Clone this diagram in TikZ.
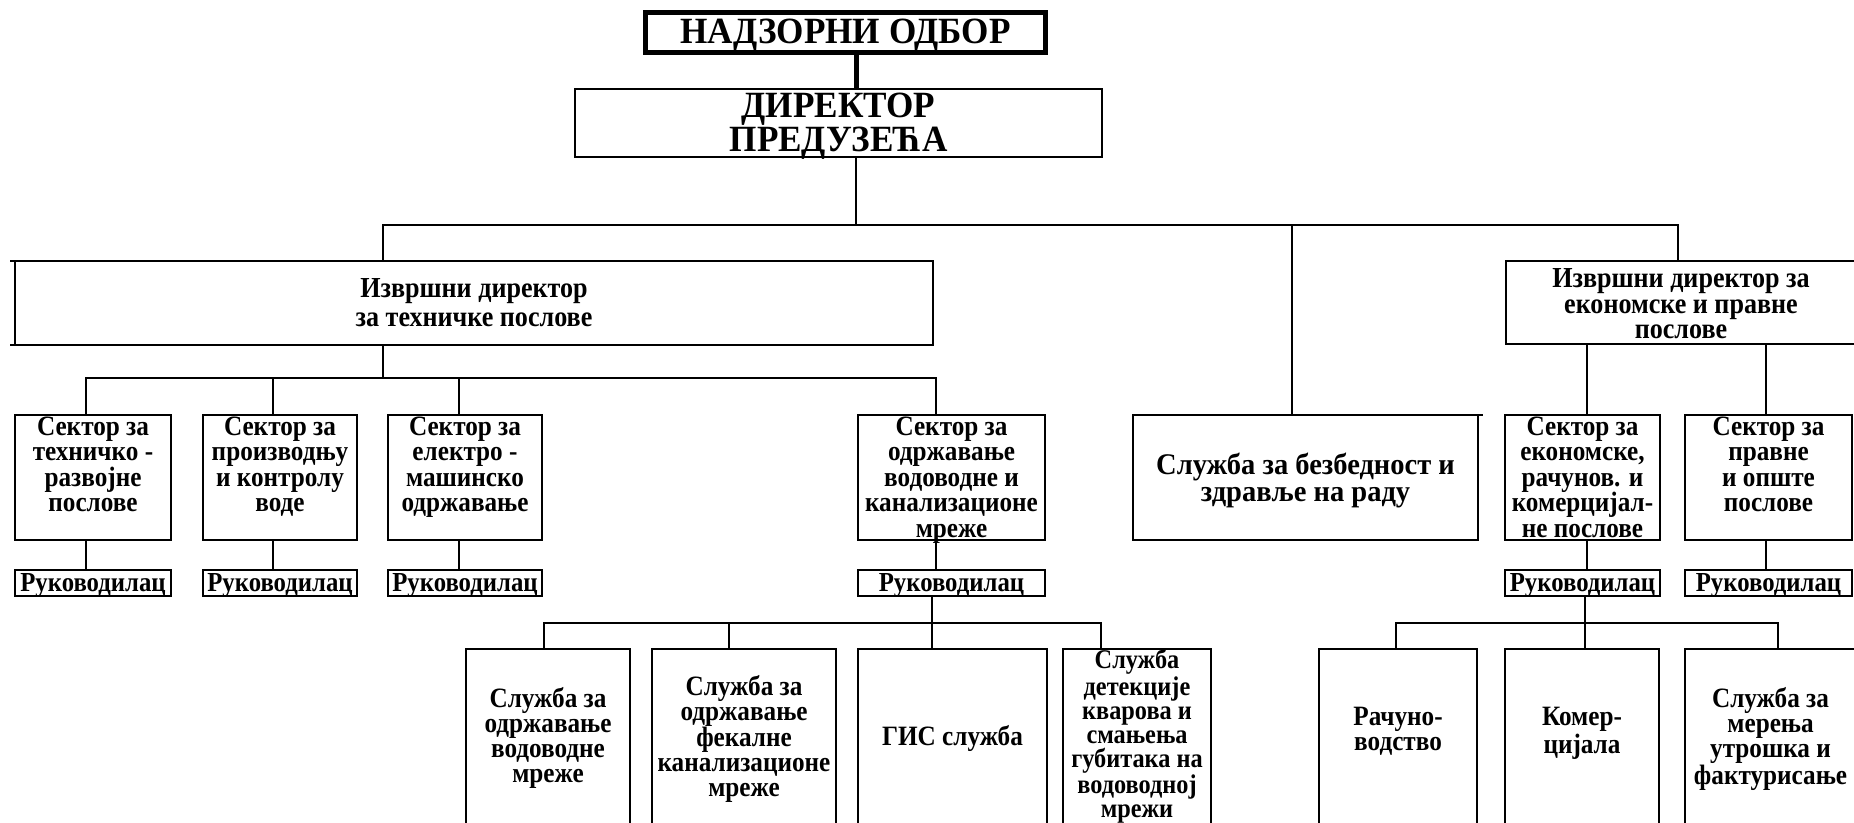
\documentclass[tikz,border=0pt]{standalone}
\usepackage{fontspec}
\setmainfont{Liberation Serif}
\newfontfamily\fntA{Liberation Serif}[FakeStretch=0.9]
\newfontfamily\fntB{Liberation Serif}[FakeStretch=0.95]
\newcommand\cellT[5]{\parbox[c][#2pt][t]{#1pt}{#4\centering\vspace*{#3pt}\strut #5}}
\newcommand\zS{\fntA\bfseries\fontsize{28}{25.5}\selectfont}
\newcommand\zB{\fntA\bfseries\fontsize{28}{25}\selectfont}
\newcommand\zBs{\fntA\bfseries\fontsize{27}{24.2}\selectfont}
\newcommand\zR{\fntA\bfseries\fontsize{27.5}{26}\selectfont}
\newcommand\zE{\fntA\bfseries\fontsize{29}{25.4}\selectfont}
\newcommand\zT{\fntA\bfseries\fontsize{29}{28.4}\selectfont}
\newcommand\zX{\fntB\bfseries\fontsize{30}{26.5}\selectfont}
\newcommand\zH{\fntB\bfseries\fontsize{37}{31.5}\selectfont}
\tikzset{
  box/.style={draw, line width=2.2pt, inner sep=0pt, outer sep=0pt, anchor=north west},
  topbox/.style={box, line width=5pt},
  con/.style={line width=1.7pt},
  topcon/.style={line width=5pt}
}
\begin{document}
\begin{tikzpicture}[x=1pt,y=-1pt]
\useasboundingbox (0,0) rectangle (1854,822);
% top
\node[topbox] (nad) at (645.5,12.5) {\cellT{400}{40}{7}{\zH}{НАДЗОРНИ ОДБОР}};
\node[box] (dir) at (575,89) {\cellT{527}{68}{3.5}{\zH}{ДИРЕКТОР\\ПРЕДУЗЕЋА}};
% executive level
\node[box] (tech) at (15,261) {\cellT{918}{84}{17.1}{\zT}{Извршни директор\\за техничке послове}};
\node[box] (econ) at (1506,261) {\cellT{350}{83}{7.7}{\zE}{Извршни директор за\\економске и правне\\послове}};
% sectors
\node[box] (s1) at (15,415) {\cellT{156}{125}{1.6}{\zS}{Сектор за\\техничко -\\развојне\\послове}};
\node[box] (s2) at (203,415) {\cellT{154}{125}{1.6}{\zS}{Сектор за\\производњу\\и контролу\\воде}};
\node[box] (s3) at (388,415) {\cellT{154}{125}{1.6}{\zS}{Сектор за\\електро -\\машинско\\одржавање}};
\node[box] (s4) at (858,415) {\cellT{187}{125}{1.6}{\zS}{Сектор за\\одржавање\\водоводне и\\канализационе\\мреже}};
\node[box] (sec) at (1133,415) {\cellT{345}{125}{38.1}{\zX}{Служба за безбедност и\\здравље на раду}};
\node[box] (s5) at (1505,415) {\cellT{155}{125}{1.6}{\zS}{Сектор за\\економске,\\рачунов. и\\комерцијал-\\не послове}};
\node[box] (s6) at (1685,415) {\cellT{167}{125}{1.6}{\zS}{Сектор за\\правне\\и опште\\послове}};
% managers
\node[box] (r1) at (15,570) {\cellT{156}{26}{2.8}{\zR}{Руководилац}};
\node[box] (r2) at (203,570) {\cellT{154}{26}{2.8}{\zR}{Руководилац}};
\node[box] (r3) at (388,570) {\cellT{154}{26}{2.8}{\zR}{Руководилац}};
\node[box] (r4) at (858,570) {\cellT{187}{26}{2.8}{\zR}{Руководилац}};
\node[box] (r5) at (1505,570) {\cellT{155}{26}{2.8}{\zR}{Руководилац}};
\node[box] (r6) at (1685,570) {\cellT{167}{26}{2.8}{\zR}{Руководилац}};
% services
\node[box] (b1) at (466,649) {\cellT{164}{176}{38.9}{\zB}{Служба за\\одржавање\\водоводне\\мреже}};
\node[box] (b2) at (652,649) {\cellT{184}{176}{26.4}{\zB}{Служба за\\одржавање\\фекалне\\канализационе\\мреже}};
\node[box] (b3) at (858,649) {\cellT{189}{176}{76.4}{\zB}{ГИС служба}};
\node[box] (b4) at (1063,649) {\cellT{148}{176}{0}{\zBs}{Служба\\детекције\\кварова и\\смањења\\губитака на\\водоводној\\мрежи}};
\node[box] (b5) at (1319,649) {\cellT{158}{176}{57.9}{\zB}{Рачуно-\\водство}};
\node[box] (b6) at (1505,649) {\cellT{154}{176}{57.9}{\zB}{Комер-\\цијала}};
\node[box] (b7) at (1685,649) {\cellT{171}{176}{38.9}{\zB}{Служба за\\мерења\\утрошка и\\фактурисање}};
% junction coordinates
\coordinate (jS) at (856,225);
\coordinate (jT) at (383,225);
\coordinate (jX) at (1292,225);
\coordinate (jE) at (1678,225);
\coordinate (kT) at (383,378);
\coordinate (k1) at (86,378);
\coordinate (k2) at (273,378);
\coordinate (k3) at (459,378);
\coordinate (k4) at (936,378);
\coordinate (e5) at (1587,378);
\coordinate (e6) at (1766,378);
\coordinate (m1) at (544,623);
\coordinate (m2) at (729,623);
\coordinate (m3) at (932,623);
\coordinate (m4) at (1101,623);
\coordinate (n1) at (1396,623);
\coordinate (n2) at (1585,623);
\coordinate (n3) at (1778,623);
% connectors
\draw[topcon] (nad.south -| jS) -- (dir.north -| jS);
\draw[con] (dir.south -| jS) -- (jS);
\draw[con] (tech.north -| jT) -- (jT) -- (jE) -- (econ.north -| jE);
\draw[con] (jX) -- (sec.north -| jX);
\draw[con] (tech.south -| kT) -- (kT);
\draw[con] (s1.north -| k1) -- (k1) -- (k4) -- (s4.north -| k4);
\draw[con] (k2) -- (s2.north -| k2);
\draw[con] (k3) -- (s3.north -| k3);
\draw[con] (econ.south -| e5) -- (s5.north -| e5);
\draw[con] (econ.south -| e6) -- (s6.north -| e6);
\draw[con] (s1.south -| k1) -- (r1.north -| k1);
\draw[con] (s2.south -| k2) -- (r2.north -| k2);
\draw[con] (s3.south -| k3) -- (r3.north -| k3);
\draw[con] (s4.south -| k4) -- (r4.north -| k4);
\draw[con] (s5.south -| e5) -- (r5.north -| e5);
\draw[con] (s6.south -| e6) -- (r6.north -| e6);
\draw[con] (r4.south -| m3) -- (m3);
\draw[con] (b1.north -| m1) -- (m1) -- (m4) -- (b4.north -| m4);
\draw[con] (m2) -- (b2.north -| m2);
\draw[con] (m3) -- (b3.north -| m3);
\draw[con] (r5.south -| n2) -- (n2);
\draw[con] (b5.north -| n1) -- (n1) -- (n3) -- (b7.north -| n3);
\draw[con] (n2) -- (b6.north -| n2);
% small overhangs
\draw[line width=2.2pt] (tech.north west) -- ++(-5,0);
\draw[line width=2.2pt] (tech.south west) -- ++(-5,0);
\draw[line width=2.2pt] (sec.north east) -- ++(5,0);
\end{tikzpicture}
\end{document}
